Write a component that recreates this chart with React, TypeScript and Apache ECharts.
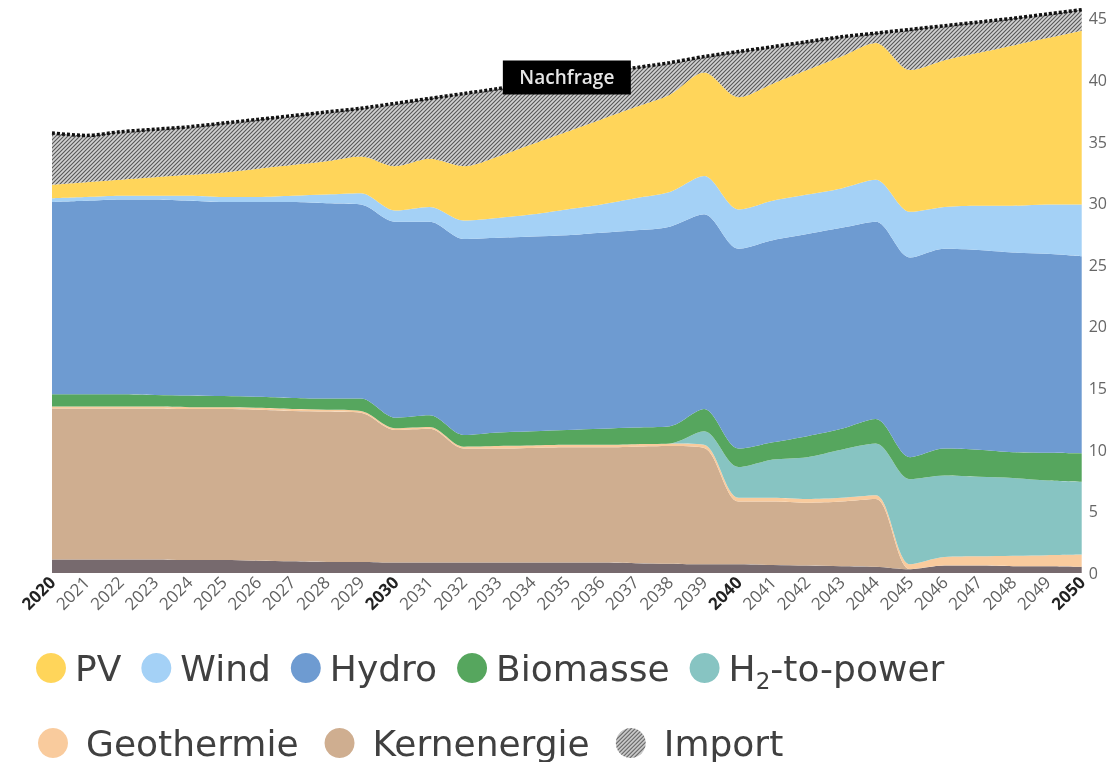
import React, { useEffect, useRef } from "react";
import * as echarts from "echarts";

const years = [
  "2020", "2021", "2022", "2023", "2024", "2025", "2026", "2027", "2028", "2029",
  "2030", "2031", "2032", "2033", "2034", "2035", "2036", "2037", "2038", "2039",
  "2040", "2041", "2042", "2043", "2044", "2045", "2046", "2047", "2048", "2049", "2050",
];
const boldYears = ["2020", "2030", "2040", "2050"];

const uebrige = [1.1, 1.1, 1.1, 1.1, 1.05, 1.05, 1.0, 0.95, 0.9, 0.9, 0.85, 0.85, 0.85, 0.85, 0.85, 0.85, 0.85, 0.8, 0.75, 0.7, 0.7, 0.65, 0.6, 0.55, 0.5, 0.3, 0.6, 0.6, 0.55, 0.55, 0.5];
const kernenergie = [12.25, 12.25, 12.25, 12.25, 12.25, 12.25, 12.25, 12.2, 12.2, 12.1, 10.75, 10.85, 9.25, 9.25, 9.3, 9.35, 9.35, 9.45, 9.55, 9.45, 5.1, 5.15, 5.1, 5.25, 5.5, 0, 0, 0, 0, 0, 0];
const geothermie = [0.15, 0.15, 0.15, 0.15, 0.15, 0.15, 0.15, 0.15, 0.15, 0.15, 0.15, 0.15, 0.15, 0.2, 0.2, 0.2, 0.2, 0.2, 0.2, 0.25, 0.3, 0.3, 0.3, 0.3, 0.3, 0.4, 0.7, 0.75, 0.85, 0.9, 1.0];
const h2ToPower = [0, 0, 0, 0, 0, 0, 0, 0, 0, 0, 0, 0, 0, 0, 0, 0, 0, 0, 0, 1.1, 2.5, 3.1, 3.4, 3.9, 4.2, 6.9, 6.6, 6.45, 6.3, 6.05, 5.9];
const biomasse = [1.0, 1.0, 1.0, 0.95, 0.95, 0.9, 0.9, 0.9, 0.9, 1.0, 0.85, 0.95, 0.95, 1.1, 1.15, 1.2, 1.3, 1.35, 1.4, 1.8, 1.5, 1.4, 1.7, 1.7, 2.0, 1.8, 2.2, 2.2, 2.1, 2.25, 2.3];
const hydro = [15.6, 15.7, 15.8, 15.85, 15.8, 15.75, 15.8, 15.9, 15.85, 15.75, 15.9, 15.7, 15.9, 15.8, 15.8, 15.8, 15.9, 16.0, 16.2, 15.8, 16.2, 16.4, 16.4, 16.3, 16.0, 16.2, 16.2, 16.2, 16.2, 16.15, 16.0];
const wind = [0.3, 0.3, 0.3, 0.3, 0.4, 0.4, 0.4, 0.5, 0.7, 0.9, 0.9, 1.2, 1.5, 1.6, 1.8, 2.1, 2.3, 2.6, 2.8, 3.1, 3.2, 3.2, 3.2, 3.2, 3.4, 3.7, 3.4, 3.6, 3.8, 4.0, 4.2];
const pv = [1.1, 1.2, 1.3, 1.5, 1.7, 2.0, 2.3, 2.5, 2.7, 3.0, 3.6, 3.9, 4.4, 5.0, 5.7, 6.3, 6.9, 7.4, 7.9, 8.4, 9.1, 9.5, 10.1, 10.7, 11.1, 11.5, 11.9, 12.4, 13.0, 13.5, 14.1];
const importe = [4.2, 3.8, 3.9, 3.9, 3.9, 4.0, 4.0, 4.0, 4.0, 3.9, 5.1, 4.9, 5.9, 5.5, 5.0, 4.4, 3.8, 3.2, 2.6, 1.3, 3.7, 3.0, 2.3, 1.6, 0.8, 3.3, 2.8, 2.5, 2.2, 1.95, 1.7];

const nachfrageLabelYear = "2035";

function makeHatch(): string {
  const c = document.createElement("canvas");
  c.width = 4;
  c.height = 4;
  const ctx = c.getContext("2d");
  if (!ctx) return "";
  ctx.fillStyle = "#d2d2d2";
  ctx.fillRect(0, 0, 4, 4);
  ctx.strokeStyle = "#575757";
  ctx.lineWidth = 1.1;
  ctx.beginPath();
  ctx.moveTo(0, 4);
  ctx.lineTo(4, 0);
  ctx.moveTo(-1, 1);
  ctx.lineTo(1, -1);
  ctx.moveTo(3, 5);
  ctx.lineTo(5, 3);
  ctx.stroke();
  return c.toDataURL();
}

export default function App() {
  const ref = useRef<HTMLDivElement>(null);

  useEffect(() => {
    if (!ref.current) return;
    const chart = echarts.init(ref.current, undefined, { renderer: "svg" });
    const hatch = { image: makeHatch(), repeat: "repeat" };

    const stackDefs: [string, number[], any][] = [
      ["Übrige", uebrige, "#776a6e"],
      ["Kernenergie", kernenergie, "#cfae90"],
      ["Geothermie", geothermie, "#f9cb9d"],
      ["H₂-to-power", h2ToPower, "#87c4c2"],
      ["Biomasse", biomasse, "#56a65e"],
      ["Hydro", hydro, "#6e9bd1"],
      ["Wind", wind, "#a4d1f6"],
      ["PV", pv, "#ffd55a"],
      ["Import", importe, hatch],
    ];

    const totals = years.map((_, i) =>
      +stackDefs.reduce((s, d) => s + d[1][i], 0).toFixed(2)
    );

    const areaSeries = stackDefs.map(([name, data, color]) => ({
      name,
      type: "line",
      stack: "total",
      smooth: 0.3,
      symbol: "none",
      data,
      lineStyle: { width: 0 },
      itemStyle: { color },
      areaStyle: { color, opacity: 1 },
      emphasis: { disabled: true },
      silent: true,
    }));

    const labelIdx = years.indexOf(nachfrageLabelYear);

    const legendText = {
      fontSize: 36,
      fontFamily: "DejaVu Sans",
      color: "#404040",
    };

    chart.setOption({
      animation: false,
      grid: { left: 52, right: 27, top: 6, bottom: 189, containLabel: false },
      legend: [
        {
          data: ["PV", "Wind", "Hydro", "Biomasse", "H₂-to-power"],
          left: 31,
          top: 645,
          icon: "circle",
          itemWidth: 30,
          itemHeight: 30,
          itemGap: 20,
          formatter: (name: string) =>
            name === "H₂-to-power" ? "{a|H}{s|2}{a|-to-power}" : `{a|${name}}`,
          textStyle: {
            ...legendText,
            padding: [0, 0, 0, 4],
            rich: {
              a: { ...legendText, lineHeight: 40, verticalAlign: "middle" },
              s: {
                fontSize: 23,
                fontFamily: "DejaVu Sans",
                color: "#404040",
                verticalAlign: "middle",
                padding: [26, 0, 0, 0],
              },
            },
          },
        },
        {
          data: ["Geothermie", "Kernenergie", "Import"],
          left: 33,
          top: 718,
          icon: "circle",
          itemWidth: 30,
          itemHeight: 30,
          itemGap: 26,
          textStyle: { ...legendText, lineHeight: 40, padding: [0, 0, 0, 13] },
        },
      ],
      xAxis: {
        type: "category",
        data: years,
        boundaryGap: false,
        axisLine: { show: false },
        axisTick: { show: false },
        splitLine: { show: false },
        axisLabel: {
          interval: 0,
          rotate: 45,
          margin: 6,
          formatter: (v: string) =>
            boldYears.includes(v) ? `{b|${v}}` : `{n|${v}}`,
          rich: {
            n: { fontSize: 17, fontFamily: "Open Sans", color: "#606060" },
            b: {
              fontSize: 17,
              fontFamily: "Open Sans",
              fontWeight: "bold",
              color: "#222222",
            },
          },
        },
      },
      yAxis: {
        type: "value",
        position: "right",
        min: 0,
        max: 46,
        interval: 5,
        axisLine: { show: false },
        axisTick: { show: false },
        splitLine: { show: false },
        axisLabel: {
          showMaxLabel: false,
          margin: 7,
          fontSize: 16,
          fontFamily: "Open Sans",
          color: "#666666",
        },
      },
      series: [
        ...areaSeries,
        {
          name: "Nachfrage",
          type: "line",
          smooth: 0.3,
          symbol: "none",
          data: totals,
          z: 4,
          silent: true,
          lineStyle: { color: "#111111", width: 3.5, type: [3, 2] },
          emphasis: { disabled: true },
          markPoint: {
            silent: true,
            z: 10,
            symbol: "rect",
            symbolSize: [128, 34],
            itemStyle: { color: "#000000" },
            label: {
              show: true,
              formatter: "Nachfrage",
              color: "#e6e6e6",
              fontSize: 19,
              fontWeight: 600,
              fontFamily: "Open Sans",
            },
            data: [
              {
                coord: [nachfrageLabelYear, totals[labelIdx]],
              },
            ],
          },
        },
      ],
    });

    return () => chart.dispose();
  }, []);

  return (
    <div
      ref={ref}
      style={{ position: "fixed", left: 0, top: 0, width: 1110, height: 762 }}
    />
  );
}
